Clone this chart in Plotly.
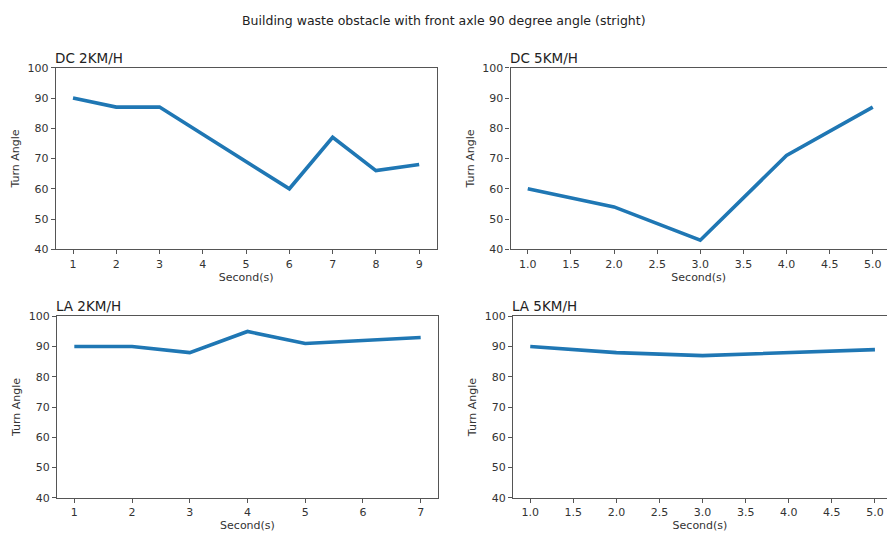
import plotly.graph_objects as go

# Turn angle readings per run
dc2_seconds = [1, 2, 3, 4, 5, 6, 7, 8, 9]
dc2_angle = [90, 87, 87, 78, 69, 60, 77, 66, 68]

dc5_seconds = [1.0, 2.0, 3.0, 4.0, 5.0]
dc5_angle = [60, 54, 43, 71, 87]

la2_seconds = [1, 2, 3, 4, 5, 6, 7]
la2_angle = [90, 90, 88, 95, 91, 92, 93]

la5_seconds = [1.0, 2.0, 3.0, 4.0, 5.0]
la5_angle = [90, 88, 87, 88, 89]

panel_titles = ["DC 2KM/H", "DC 5KM/H", "LA 2KM/H", "LA 5KM/H"]
main_title = "Building waste obstacle with front axle 90 degree angle (stright)"

FONT = "DejaVu Sans"
LINE_BLUE = "#1f77b4"
SPINE = "#555555"
TEXT = "#333333"

W, H = 887, 538


def px_x(a, b):
    return [a / W, b / W]


def px_y(top, bottom):
    return [(H - bottom) / H, (H - top) / H]


panels = [
    # (x, y, xdomain, ydomain, xrange, dtick, tickformat)
    (dc2_seconds, dc2_angle, px_x(55.7, 436.5), px_y(63.3, 249.3), [0.6, 9.4], 1, "d"),
    (dc5_seconds, dc5_angle, px_x(510.5, 887), px_y(63.3, 249.3), [0.8, 5.165], 0.5, ".1f"),
    (la2_seconds, la2_angle, px_x(57.0, 438.0), px_y(318.0, 504.0), [0.7, 7.3], 1, "d"),
    (la5_seconds, la5_angle, px_x(513.0, 887), px_y(318.0, 504.0), [0.8, 5.14], 0.5, ".1f"),
]

fig = go.Figure()
layout = {}
annotations = []

for i, (xs, ys, xd, yd, xr, dt, fmt) in enumerate(panels):
    n = "" if i == 0 else str(i + 1)
    fig.add_trace(go.Scatter(
        x=xs, y=ys, mode="lines",
        line=dict(color=LINE_BLUE, width=3.6),
        xaxis="x" + n, yaxis="y" + n, showlegend=False,
        hoverinfo="x+y",
    ))
    right_cut = xd[1] >= 0.999
    layout["xaxis" + n] = dict(
        domain=xd, range=xr, anchor="y" + n,
        dtick=dt, tick0=0, tickformat=fmt,
        showgrid=False, zeroline=False,
        showline=True, linecolor=SPINE, linewidth=1.2,
        mirror=True,
        ticks="outside", ticklen=4, tickcolor=SPINE, tickwidth=1,
        tickfont=dict(family=FONT, size=11, color=TEXT),
        title=dict(text="Second(s)", font=dict(family=FONT, size=11, color=TEXT), standoff=3),
        fixedrange=True,
    )
    layout["yaxis" + n] = dict(
        domain=yd, range=[40, 100], anchor="x" + n,
        dtick=10, showgrid=False, zeroline=False,
        showline=True, linecolor=SPINE, linewidth=1.2,
        mirror=(not right_cut),
        ticks="outside", ticklen=4, tickcolor=SPINE, tickwidth=1,
        tickfont=dict(family=FONT, size=11, color=TEXT),
        title=dict(text="Turn Angle", font=dict(family=FONT, size=11, color=TEXT), standoff=5),
        fixedrange=True,
    )
    annotations.append(dict(
        text=panel_titles[i], xref="x" + n + " domain", yref="y" + n + " domain",
        x=0, y=1, xanchor="left", yanchor="bottom", yshift=0, xshift=-3, showarrow=False,
        font=dict(family=FONT, size=13.5, color="#222222"),
    ))

annotations.append(dict(
    text=main_title, xref="paper", yref="paper", x=0.5, y=1 - 15 / H,
    xanchor="center", yanchor="middle", showarrow=False,
    font=dict(family=FONT, size=12.5, color="#222222"),
))

fig.update_layout(
    width=W, height=H,
    margin=dict(l=0, r=0, t=0, b=0),
    paper_bgcolor="white", plot_bgcolor="white",
    annotations=annotations,
    **layout,
)

fig.write_html("out.html")
